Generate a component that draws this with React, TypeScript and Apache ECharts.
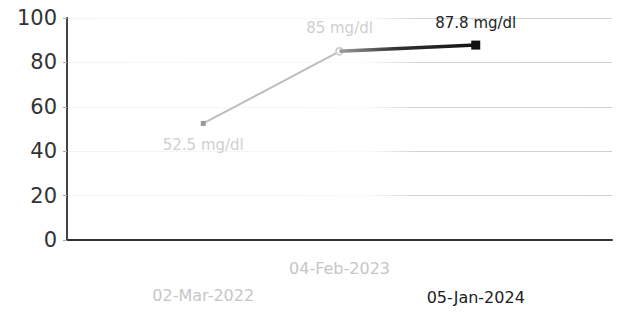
import React, { useEffect, useRef } from "react";
import * as echarts from "echarts";

const dates = ["02-Mar-2022", "04-Feb-2023", "05-Jan-2024"];
const values = [52.5, 85, 87.8];
const unit = "mg/dl";
const yMin = 0;
const yMax = 100;
const yStep = 20;

export default function App() {
  const ref = useRef<HTMLDivElement>(null);
  useEffect(() => {
    document.body.style.margin = "0";
    const chart = echarts.init(ref.current!, null, { renderer: "svg" });
    const font = "DejaVu Sans";
    const pts = values.map((v, i) => [i + 1, v]);
    const gridGrad = new echarts.graphic.LinearGradient(
      0, 0, 618, 0,
      [
        { offset: 0, color: "rgba(215,215,215,0.35)" },
        { offset: 0.6, color: "rgba(215,215,215,0.15)" },
        { offset: 0.67, color: "#d4d4d4" },
        { offset: 1, color: "#d0d0d0" },
      ],
      true
    );
    const darkGrad = new echarts.graphic.LinearGradient(
      341, 0, 477, 0,
      [
        { offset: 0, color: "#9a9a9a" },
        { offset: 0.4, color: "#333" },
        { offset: 1, color: "#111" },
      ],
      true
    );
    chart.setOption({
      animation: false,
      grid: { left: 67, right: 6, top: 18, bottom: 73 },
      xAxis: {
        type: "value",
        min: 0,
        max: dates.length + 1,
        interval: 1,
        axisLine: { show: true, lineStyle: { color: "#333", width: 2 } },
        axisTick: { show: false },
        splitLine: { show: false },
        axisLabel: {
          margin: 20,
          fontFamily: font,
          fontSize: 16,
          formatter: (v: number) => {
            const i = Math.round(v) - 1;
            if (i < 0 || i >= dates.length) return "";
            const style = i === dates.length - 1 ? "hi" : i % 2 === 1 ? "mid" : "lo";
            return `{${style}|${dates[i]}}`;
          },
          rich: {
            lo: { color: "#c6c6c6", fontFamily: font, fontSize: 16, padding: [27, 0, 0, 0] },
            mid: { color: "#c6c6c6", fontFamily: font, fontSize: 16 },
            hi: { color: "#222", fontFamily: font, fontSize: 16, padding: [29, 0, 0, 0] },
          },
        },
      },
      yAxis: {
        type: "value",
        min: yMin,
        max: yMax,
        interval: yStep,
        axisLine: { show: true, lineStyle: { color: "#444", width: 2 } },
        axisTick: { show: true, length: 4, lineStyle: { color: "#aaa" } },
        splitLine: { show: true, lineStyle: { color: gridGrad, width: 1 } },
        axisLabel: { color: "#333", fontFamily: font, fontSize: 21, margin: 10 },
      },
      series: [
        {
          type: "line",
          data: pts.slice(0, 2).map((p, i) => ({
            value: p,
            symbol: i === 0 ? "rect" : "circle",
            symbolSize: i === 0 ? 5 : 7,
            itemStyle:
              i === 0
                ? { color: "#999", borderWidth: 0 }
                : { color: "#fff", borderColor: "#c8c8c8", borderWidth: 1.5 },
            label: {
              show: true,
              position: i === 0 ? "bottom" : "top",
              distance: 12,
            },
          })),
          lineStyle: { color: "#bdbdbd", width: 2 },
          label: {
            color: "#cfcfcf",
            fontFamily: font,
            fontSize: 15,
            formatter: (p: any) => `${p.value[1]} ${unit}`,
          },
          z: 2,
        },
        {
          type: "line",
          data: pts.slice(1).map((p, i) => ({
            value: p,
            symbol: i === 0 ? "none" : "rect",
            symbolSize: 9,
            label: { show: i !== 0, position: "top", distance: 10 },
          })),
          lineStyle: { color: darkGrad, width: 3.5 },
          itemStyle: { color: "#111" },
          label: {
            color: "#222",
            fontFamily: font,
            fontSize: 15,
            formatter: (p: any) => `${p.value[1]} ${unit}`,
          },
          z: 3,
        },
      ],
    });
    return () => chart.dispose();
  }, []);
  return <div ref={ref} style={{ width: 618, height: 313, background: "#fff" }} />;
}
